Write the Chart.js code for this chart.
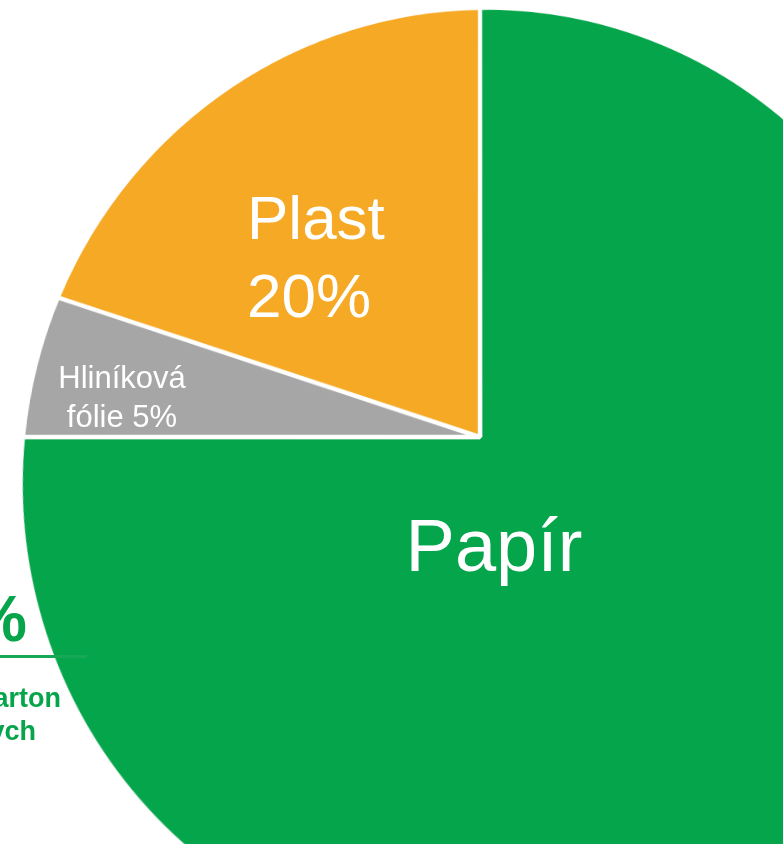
<!DOCTYPE html>
<html>
<head>
<meta charset="utf-8">
<script src="https://cdn.jsdelivr.net/npm/chart.js@4.4.1/dist/chart.umd.min.js"></script>
<style>
  html, body { margin: 0; padding: 0; background: #fff; }
  body {
    width: 783px; height: 844px; overflow: hidden; position: relative;
    font-family: "Liberation Sans", Arial, sans-serif;
  }
  /* the pie is seen slightly in perspective: bottom nearer, top farther */
  #pie-wrap {
    position: absolute; left: 0; top: -43px; width: 960px; height: 960px;
    transform-origin: 480px 480px;
    transform: matrix3d(0.971, 0, 0, -0.0000315, 0, 0.988, 0, -0.0002103, 0, 0, 1, 0, 0, 0, 0, 1);
  }
  .lbl { position: absolute; color: #fff; white-space: nowrap; }
  .side { position: absolute; color: #06a44b; font-weight: bold; white-space: nowrap; }
</style>
</head>
<body>
<div id="pie-wrap"><canvas id="pie"></canvas></div>
<div id="labels"></div>

<div class="side" style="left:-173px; top:587px; width:200px; text-align:right; font-size:64px; line-height:64px;">%</div>
<div style="position:absolute; left:0; top:655px; width:87px; height:3px; background:#17a857;"></div>
<div class="side" style="left:-139px; top:682px; width:200px; text-align:right; font-size:27px; line-height:33px;">arton</div>
<div class="side" style="left:-164px; top:715px; width:200px; text-align:right; font-size:27px; line-height:33px;">ych</div>

<script>
// data
const categories = ['Papír', 'Hliníková fólie', 'Plast'];
const shares = [75, 5, 20];
const sliceColors = ['#05a54b', '#a6a6a6', '#f5a924'];

// label texts as printed on the slices
const labelLines = [
    ['Papír'],
    ['Hliníková', 'fólie ' + shares[1] + '%'],
    ['Plast', shares[2] + '%']
];
// where each label sits on the page
const labelBoxes = [
    { left: 294, top: 509, width: 400, size: 74, lh: 74, align: 'center' },
    { left: 22, top: 358, width: 200, size: 31, lh: 39, align: 'center' },
    { left: 247, top: 179, width: 300, size: 62, lh: 78, align: 'left' }
];

const ctx = document.getElementById('pie').getContext('2d');

new Chart(ctx, {
    type: 'pie',
    data: {
        labels: categories,
        datasets: [{
            data: shares,
            backgroundColor: sliceColors,
            borderColor: '#ffffff',
            borderWidth: 4.5
        }]
    },
    options: {
        responsive: true,
        maintainAspectRatio: false,
        devicePixelRatio: 2,
        animation: false,
        rotation: 0,
        layout: { padding: 0 },
        plugins: {
            legend: { display: false },
            tooltip: { enabled: false }
        }
    }
});

const holder = document.getElementById('labels');
labelLines.forEach((lines, i) => {
    const b = labelBoxes[i];
    const div = document.createElement('div');
    div.className = 'lbl';
    div.style.left = b.left + 'px';
    div.style.top = b.top + 'px';
    div.style.width = b.width + 'px';
    div.style.fontSize = b.size + 'px';
    div.style.lineHeight = b.lh + 'px';
    div.style.textAlign = b.align;
    div.innerHTML = lines.join('<br>');
    holder.appendChild(div);
});
</script>
</body>
</html>
